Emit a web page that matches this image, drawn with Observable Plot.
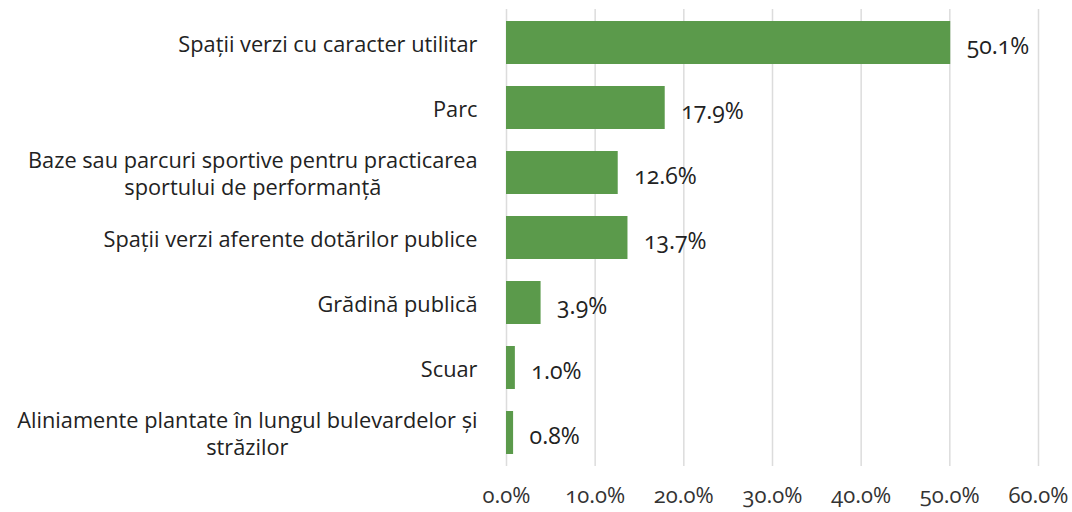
<!DOCTYPE html>
<html>
<head>
<meta charset="utf-8">
<script src="https://cdn.jsdelivr.net/npm/d3@7"></script>
<script src="https://cdn.jsdelivr.net/npm/@observablehq/plot@0.6"></script>
<style>
  html, body { margin: 0; padding: 0; background: #fff; }
  #chart svg { display: block; }
  #chart svg text { font-variant-numeric: oldstyle-nums; }
</style>
</head>
<body>
<div id="chart"></div>
<script>
const categories = [
  "Spații verzi cu caracter utilitar",
  "Parc",
  "Baze sau parcuri sportive pentru practicarea\nsportului de performanță",
  "Spații verzi aferente dotărilor publice",
  "Grădină publică",
  "Scuar",
  "Aliniamente plantate în lungul bulevardelor și\nstrăzilor"
];
const values = [50.1, 17.9, 12.6, 13.7, 3.9, 1.0, 0.8];
const xTicks = [0, 10, 20, 30, 40, 50, 60];

const data = categories.map((c, i) => ({category: c, value: values[i]}));
const fontFamily = "'Open Sans', Lato, sans-serif";

const chart = Plot.plot({
  width: 1072,
  height: 512,
  marginLeft: 506,
  marginRight: 34,
  marginTop: 9,
  marginBottom: 46,
  style: {fontFamily, fontSize: "20px", color: "#222", background: "#fff"},
  x: {domain: [0, 60], ticks: xTicks, tickFormat: d => d.toFixed(1) + "%", label: null},
  y: {domain: categories, label: null, paddingInner: 0.333, paddingOuter: 0.1667},
  marks: [
    Plot.gridX(xTicks, {stroke: "#dcdcdc", strokeOpacity: 1, strokeWidth: 1.5}),
    Plot.axisX({ticks: xTicks, tickSize: 0, tickPadding: 21, tickFormat: d => d.toFixed(1) + "%", fontSize: 22, fill: "#333", label: null}),
    Plot.axisY({tickSize: 0, tickPadding: 29, textAnchor: "middle", lineHeight: 1.25, fontSize: 21.75, fill: "#222", label: null}),
    Plot.barX(data, {x: "value", y: "category", fill: "#5b9a4b"}),
    Plot.text(data, {x: "value", y: "category", text: d => d.value.toFixed(1) + "%", textAnchor: "start", dx: 16, dy: 4, fontSize: 23, fill: "#222"})
  ]
});
document.getElementById("chart").appendChild(chart);

// right-align label blocks while centering lines within each block (Excel style)
const yAxis = chart.querySelectorAll("g[aria-label='y-axis tick label'] text");
yAxis.forEach(t => {
  const w = t.getBBox().width;
  const tx = +(t.getAttribute("x") || 0);
  t.setAttribute("x", tx - w / 2);
  t.querySelectorAll("tspan").forEach(s => { if (s.hasAttribute("x")) s.setAttribute("x", tx - w / 2); });
});
</script>
</body>
</html>
